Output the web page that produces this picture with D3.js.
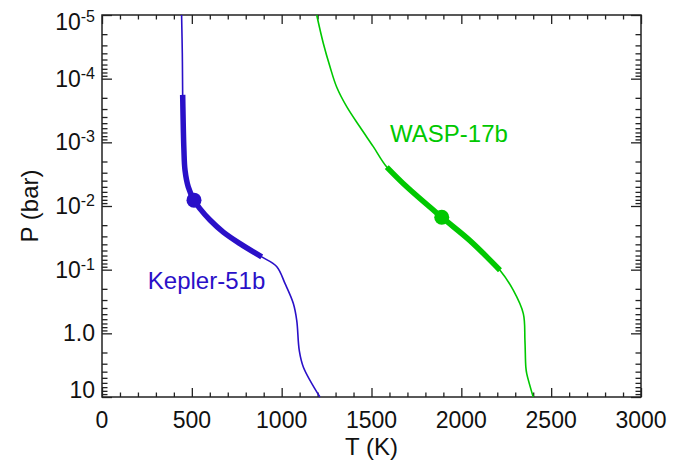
<!DOCTYPE html>
<html>
<head>
  <meta charset="utf-8">
  <title>P-T profiles</title>
  <script src="https://cdnjs.cloudflare.com/ajax/libs/d3/7.8.5/d3.min.js"></script>
  <style>
    body { margin: 0; background: #fff; }
    svg text { font-family: "Liberation Sans", Arial, sans-serif; fill: #111; }
  </style>
</head>
<body>
<div id="chart"></div>
<script>
// Kepler-51b profile (T in K, P in bar)
var keplerT = [443, 447, 449, 456, 462, 480, 512, 545, 601, 675, 768, 889, 972, 1019, 1065, 1084, 1098, 1121, 1213];
var keplerP = [1e-5, 4e-5, 1.8e-4, 1.33e-3, 2.73e-3, 5.0e-3, 8.1e-3, 1.1e-2, 1.66e-2, 2.57e-2, 3.9e-2, 6.3e-2, 8.9e-2, 0.166, 0.34, 0.63, 1.86, 3.4, 10];
// WASP-17b profile
var waspT = [1195, 1232, 1269, 1306, 1362, 1436, 1510, 1585, 1696, 1891, 2048, 2215, 2289, 2345, 2354, 2359, 2364, 2400];
var waspP = [1e-5, 2.8e-5, 6.5e-5, 1.35e-4, 2.75e-4, 5.75e-4, 1.17e-3, 2.45e-3, 5.0e-3, 1.5e-2, 3.5e-2, 0.102, 0.21, 0.49, 1.29, 3.4, 4.3, 10];

// pressure range drawn thick, and the marked point
var keplerThick = [1.8e-4, 6.3e-2];
var waspThick = [2.45e-3, 0.102];
var keplerDot = [512, 8.1e-3];
var waspDot = [1891, 1.5e-2];

var xTicks = [0, 500, 1000, 1500, 2000, 2500, 3000];
var yTicks = [1e-5, 1e-4, 1e-3, 1e-2, 1e-1, 1, 10];
var yTickBase = ["10", "10", "10", "10", "10", "1.0", "10"];
var yTickExp = ["-5", "-4", "-3", "-2", "-1", "", ""];

var blue = "#2a10c8", green = "#00c800";

var margin = {top: 15, right: 47, bottom: 67, left: 102},
    width = 688 - margin.left - margin.right,
    height = 464 - margin.top - margin.bottom;

var svg = d3.select("#chart").append("svg")
    .attr("width", 688).attr("height", 464)
  .append("g")
    .attr("transform", "translate(" + margin.left + "," + margin.top + ")");

var x = d3.scaleLinear().domain([0, 3000]).range([0, width]);
var y = d3.scaleLog().domain([1e-5, 10]).range([0, height]);

// minor ticks
var xMinor = d3.range(0, 3001, 100).filter(function(d) { return d % 500 != 0; });
var yMinor = [];
[-5, -4, -3, -2, -1, 0].forEach(function(k) {
  for (var m = 2; m < 10; m++) yMinor.push(m * Math.pow(10, k));
});

function tickAxis(axis, vals, size) {
  return axis.tickValues(vals).tickSize(size).tickFormat("");
}
var axes = [
  [tickAxis(d3.axisBottom(x), xTicks, -9), "translate(0," + height + ")"],
  [tickAxis(d3.axisBottom(x), xMinor, -4.5), "translate(0," + height + ")"],
  [tickAxis(d3.axisTop(x), xTicks, -9), null],
  [tickAxis(d3.axisTop(x), xMinor, -4.5), null],
  [tickAxis(d3.axisLeft(y), yTicks, -10), null],
  [tickAxis(d3.axisLeft(y), yMinor, -5.5), null],
  [tickAxis(d3.axisRight(y), yTicks, -10), "translate(" + width + ",0)"],
  [tickAxis(d3.axisRight(y), yMinor, -5.5), "translate(" + width + ",0)"]
];
axes.forEach(function(a) {
  var g = svg.append("g").call(a[0]);
  if (a[1]) g.attr("transform", a[1]);
  g.select(".domain").remove();
  g.selectAll("line").attr("stroke", "#222").attr("stroke-width", 1.3);
});

svg.append("rect")
    .attr("width", width).attr("height", height)
    .attr("fill", "none").attr("stroke", "#222").attr("stroke-width", 1.5);

// x tick labels
svg.selectAll(".xlab").data(xTicks).enter().append("text")
    .attr("x", function(d) { return x(d); })
    .attr("y", height + 31)
    .attr("text-anchor", "middle")
    .style("font-size", "23px")
    .text(function(d) { return d; });

// y tick labels (first and last kept inside the frame height)
var ylab = svg.selectAll(".ylab").data(yTicks).enter().append("text")
    .attr("x", -7)
    .attr("y", function(d, i) {
      var shift = i == 0 ? 7 : (i == yTicks.length - 1 ? -7 : 0);
      return y(d) + shift + 8;
    })
    .attr("text-anchor", "end")
    .style("font-size", "23px");
ylab.append("tspan").text(function(d, i) { return yTickBase[i]; });
ylab.append("tspan")
    .attr("dy", -8)
    .style("font-size", "16px")
    .text(function(d, i) { return yTickExp[i]; });

// axis titles
svg.append("text")
    .attr("x", width / 2).attr("y", height + 58)
    .attr("text-anchor", "middle")
    .style("font-size", "24px")
    .text("T (K)");
svg.append("text")
    .attr("transform", "translate(" + (38 - margin.left) + "," + (height / 2) + ") rotate(-90)")
    .attr("text-anchor", "middle")
    .style("font-size", "24px")
    .text("P (bar)");

var line = d3.line()
    .x(function(d) { return x(d[0]); })
    .y(function(d) { return y(d[1]); })
    .curve(d3.curveCatmullRom.alpha(0.5));

function drawProfile(T, P, thick, dot, color) {
  var pts = T.map(function(t, i) { return [t, P[i]]; });
  svg.append("path").datum(pts)
      .attr("fill", "none").attr("stroke", color).attr("stroke-width", 1.6)
      .attr("d", line);
  svg.append("path")
      .datum(pts.filter(function(d) { return d[1] >= thick[0] && d[1] <= thick[1]; }))
      .attr("fill", "none").attr("stroke", color).attr("stroke-width", 5.5)
      .attr("d", line);
  svg.append("circle")
      .attr("cx", x(dot[0])).attr("cy", y(dot[1])).attr("r", 7.5)
      .attr("fill", color);
}
drawProfile(keplerT, keplerP, keplerThick, keplerDot, blue);
drawProfile(waspT, waspP, waspThick, waspDot, green);

// labels
svg.append("text")
    .attr("x", x(255)).attr("y", y(0.2))
    .style("font-size", "24px").style("fill", blue)
    .text("Kepler-51b");
svg.append("text")
    .attr("x", x(1603)).attr("y", y(1.0e-3))
    .style("font-size", "24px").style("fill", green)
    .text("WASP-17b");
</script>
</body>
</html>
